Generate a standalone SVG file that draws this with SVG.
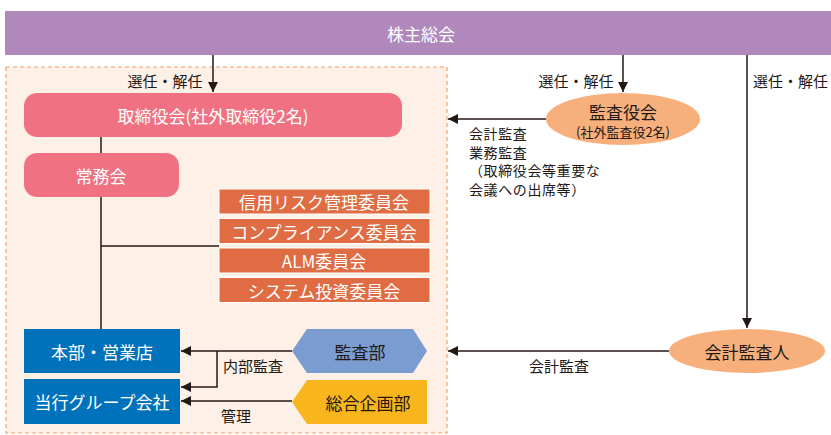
<svg xmlns="http://www.w3.org/2000/svg" width="831" height="435" viewBox="0 0 831 435">
<defs>
<marker id="arr" viewBox="0 0 10 10" refX="10" refY="5" markerWidth="10" markerHeight="10" markerUnits="userSpaceOnUse" orient="auto">
<path d="M0,0 L10,5 L0,10 z" fill="#231815"/>
</marker>
<style>
text{font-family:"Noto Sans CJK JP","Noto Sans",sans-serif;dominant-baseline:central}
.w{fill:#fff;font-size:17px;text-anchor:middle}
.d{fill:#231815;font-size:17px;text-anchor:middle}
.lb{fill:#231815;font-size:15px}
.ml{fill:#231815;font-size:14px;letter-spacing:0.6px}
.ln{stroke:#231815;stroke-width:1.5;fill:none}
.pink{fill:#f07282}
.com{fill:#e06c44;stroke:#fff;stroke-width:1}
.blue{fill:#0071bb}
</style>
</defs>
<rect x="6" y="67" width="441" height="366" fill="#fdf0e6" stroke="#f6a26a" stroke-width="1.2" stroke-dasharray="4,3"/>
<g id="shareholders">
<rect x="5" y="11" width="826" height="44" fill="#b088bc"/>
<text class="w" x="421" y="33">株主総会</text>
</g>
<g id="connectors">
<line class="ln" x1="213" y1="55" x2="213" y2="92" marker-end="url(#arr)"/>
<line class="ln" x1="623" y1="55" x2="623" y2="92" marker-end="url(#arr)"/>
<line class="ln" x1="747" y1="55" x2="747" y2="328" marker-end="url(#arr)"/>
<line class="ln" x1="101" y1="137" x2="101" y2="153"/>
<line class="ln" x1="101" y1="197" x2="101" y2="329"/>
<line class="ln" x1="101" y1="246" x2="219" y2="246"/>
<line class="ln" x1="546" y1="119" x2="448" y2="119" marker-end="url(#arr)"/>
<line class="ln" x1="669" y1="351" x2="448" y2="351" marker-end="url(#arr)"/>
<line class="ln" x1="292" y1="351" x2="181" y2="351" marker-end="url(#arr)"/>
<polyline class="ln" points="217,351 217,387 181,387" marker-end="url(#arr)"/>
<line class="ln" x1="292" y1="401" x2="181" y2="401" marker-end="url(#arr)"/>
<text class="lb" x="165" y="80" text-anchor="middle">選任・解任</text>
<text class="lb" x="576" y="80" text-anchor="middle">選任・解任</text>
<text class="lb" x="753" y="80">選任・解任</text>
<text class="ml" x="469" y="133">会計監査</text>
<text class="ml" x="469" y="151.5">業務監査</text>
<text class="ml" x="469" y="170">（取締役会等重要な</text>
<text class="ml" x="469" y="188.5">会議への出席等）</text>
<text class="lb" x="559" y="365" text-anchor="middle">会計監査</text>
<text class="lb" x="253" y="365" text-anchor="middle">内部監査</text>
<text class="lb" x="236" y="415" text-anchor="middle">管理</text>
</g>
<g id="board">
<rect class="pink" x="24" y="93" width="378" height="44" rx="13"/>
<text class="w" x="213" y="115">取締役会(社外取締役2名)</text>
</g>
<g id="executive">
<rect class="pink" x="24" y="153" width="155" height="44" rx="13"/>
<text class="w" x="101" y="175">常務会</text>
</g>
<g id="credit-risk">
<rect class="com" x="219" y="189" width="211" height="25"/>
<text class="w" x="324" y="201.5">信用リスク管理委員会</text>
</g>
<g id="compliance">
<rect class="com" x="219" y="218.5" width="211" height="25"/>
<text class="w" x="324" y="231">コンプライアンス委員会</text>
</g>
<g id="alm">
<rect class="com" x="219" y="248" width="211" height="25"/>
<text class="w" x="324" y="260.5">ALM委員会</text>
</g>
<g id="system">
<rect class="com" x="219" y="277.5" width="211" height="25"/>
<text class="w" x="324" y="290">システム投資委員会</text>
</g>
<g id="headquarters">
<rect class="blue" x="24" y="329" width="156" height="44"/>
<text class="w" x="102" y="351">本部・営業店</text>
</g>
<g id="group">
<rect class="blue" x="24" y="379" width="156" height="45"/>
<text class="w" x="102" y="401.5">当行グループ会社</text>
</g>
<g id="audit-dept">
<polygon points="292,351 307,329 413,329 427,351 413,373 307,373" fill="#7b9cd1"/>
<text class="d" x="360" y="351">監査部</text>
</g>
<g id="planning">
<polygon points="292,402 307,380 427,380 427,424 307,424" fill="#f9b61c"/>
<text class="d" x="368" y="402">総合企画部</text>
</g>
<g id="auditors">
<ellipse cx="623" cy="119" rx="77" ry="26" fill="#f7b07c"/>
<text class="d" x="623" y="111">監査役会</text>
<text x="623" y="131" fill="#231815" font-size="13" text-anchor="middle">(社外監査役2名)</text>
</g>
<g id="accounting-auditor">
<ellipse cx="747" cy="351" rx="78" ry="22" fill="#f7b07c"/>
<text class="d" x="747" y="351">会計監査人</text>
</g>
</svg>
